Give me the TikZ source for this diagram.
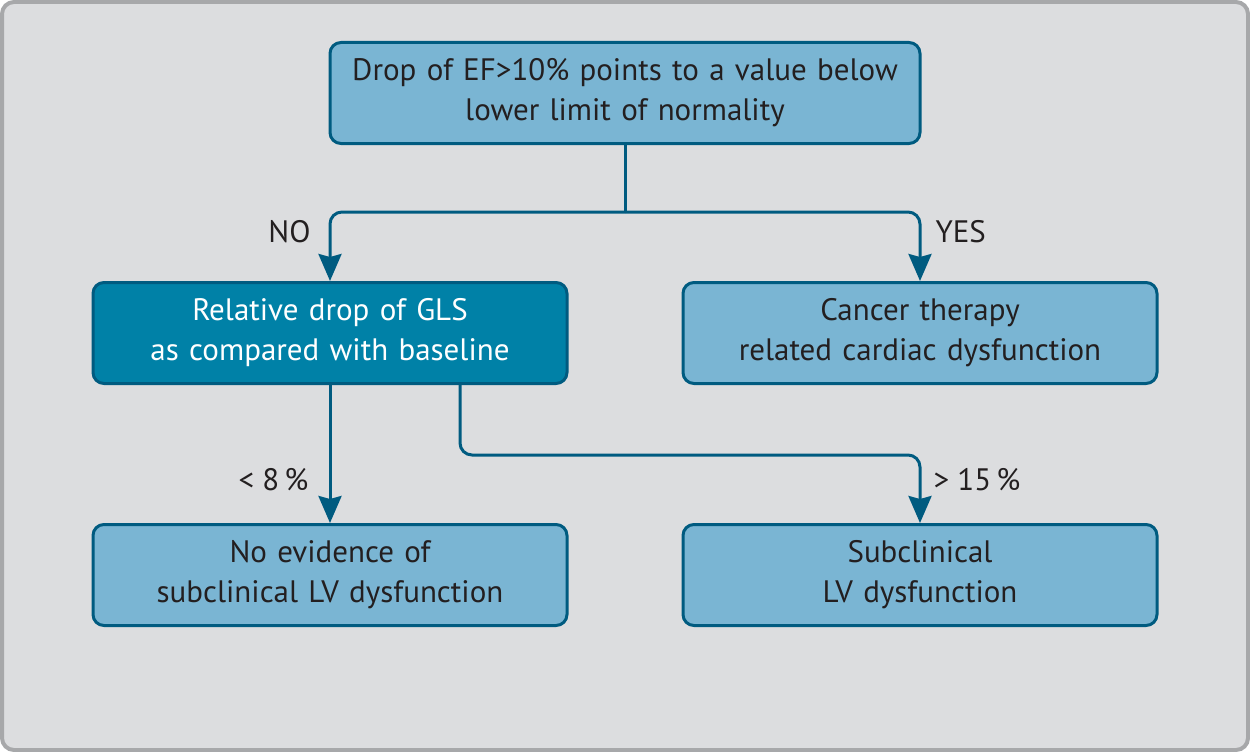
\documentclass[tikz,border=0pt]{standalone}
\usepackage{fontspec}
\setmainfont{PT Sans}
\usetikzlibrary{arrows.meta}
\definecolor{panelgray}{HTML}{DCDDDF}
\definecolor{framegray}{HTML}{A7A8AA}
\definecolor{boxlight}{HTML}{7AB5D3}
\definecolor{boxdark}{HTML}{0081A7}
\definecolor{edgeblue}{HTML}{005B80}
\definecolor{inkdark}{HTML}{231F20}
\begin{document}
\begin{tikzpicture}[x=1pt, y=-1pt,
	every node/.style={text centered, font=\fontsize{31}{40}\selectfont, text=inkdark},
	stepbox/.style={rectangle, rounded corners=11pt, draw=edgeblue, line width=3pt,
		fill=boxlight, align=center, inner sep=0pt, text width=474pt, minimum height=101pt},
	conn/.style={draw=edgeblue, line width=3pt, rounded corners=12pt,
		-{Stealth[length=27pt, width=23pt, inset=3pt]}}]
	\useasboundingbox (0,0) rectangle (1250,752);
	\draw[framegray, fill=panelgray, line width=4pt, rounded corners=12pt] (2,2) rectangle (1248,750);

	\draw 	(625, 93)	node[stepbox, text width=590pt] (drop)
				{Drop of EF>10\% points to a value below\\lower limit of normality}

			(330, 333)	node[stepbox, fill=boxdark, text=white] (gls)
				{Relative drop of GLS\\as compared with baseline}

			(920, 333)	node[stepbox] (ctrcd)
				{Cancer therapy\\related cardiac dysfunction}

			(330, 575)	node[stepbox] (noev)
				{No evidence of\\subclinical LV dysfunction}

			(920, 575)	node[stepbox] (subcl)
				{Subclinical\\LV dysfunction}
;
	\coordinate (split) at (625, 212);
	\draw[edgeblue, line width=3pt] (drop.south) -- (split);
	\draw[conn] (split) -| (gls.north);
	\draw[conn] (split) -| (ctrcd.north);
	\draw[conn] (gls.south) -- (noev.north);
	\draw[conn] ([xshift=130pt]gls.south) -- ++(0,70) -| (subcl.north);

	\node[anchor=east] (no) at (314, 232) {NO};
	\node[anchor=west] (yes) at (932, 232) {YES};
	\node[anchor=east] (lt) at (312, 480) {< 8\,\%};
	\node[anchor=west] (gt) at (930, 480) {> 15\,\%};
\end{tikzpicture}
\end{document}
